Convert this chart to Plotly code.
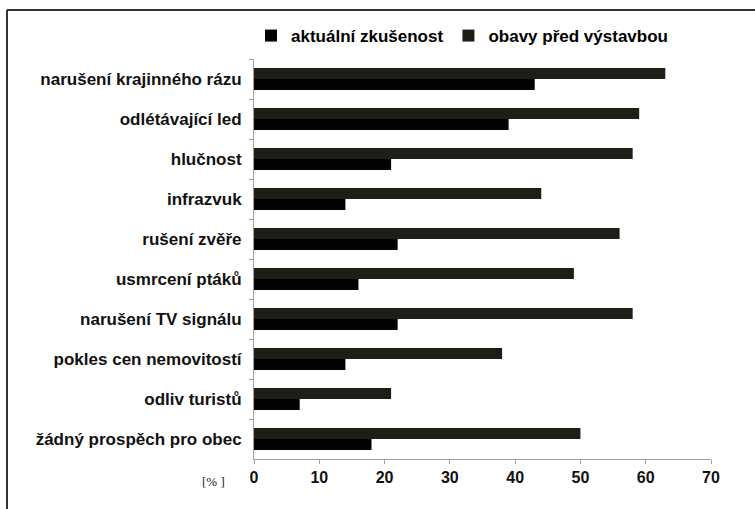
import plotly.graph_objects as go

categories = [
    "narušení krajinného rázu",
    "odlétávající led",
    "hlučnost",
    "infrazvuk",
    "rušení zvěře",
    "usmrcení ptáků",
    "narušení TV signálu",
    "pokles cen nemovitostí",
    "odliv turistů",
    "žádný prospěch pro obec",
]
aktualni = [43, 39, 21, 14, 22, 16, 22, 14, 7, 18]
obavy = [63, 59, 58, 44, 56, 49, 58, 38, 21, 50]
x_ticks = [0, 10, 20, 30, 40, 50, 60, 70]

FONT = "Liberation Sans, Arial, sans-serif"

fig = go.Figure()
fig.add_trace(go.Bar(
    y=categories, x=obavy, orientation="h", name="obavy před výstavbou",
    marker=dict(color="#1d1f17", line=dict(width=0)), legendrank=2,
))
fig.add_trace(go.Bar(
    y=categories, x=aktualni, orientation="h", name="aktuální zkušenost",
    marker=dict(color="#030303", line=dict(width=0)), legendrank=1,
))

L, R, T, B = 254, 44, 59, 50
W, H = 755, 509
pw = W - L - R
ph = H - T - B

def px(xp):
    return (xp - L) / pw

def py(yp):
    return (H - B - yp) / ph

fig.update_layout(
    width=W, height=H,
    margin=dict(l=L, r=R, t=T, b=B, autoexpand=False),
    paper_bgcolor="white", plot_bgcolor="white",
    barmode="group", bargap=0.45, bargroupgap=0,
    font=dict(family=FONT, color="black"),
    legend=dict(
        orientation="h", x=px(251), xanchor="left", y=py(36), yanchor="middle",
        font=dict(size=17, weight="bold", family=FONT),
        bgcolor="rgba(0,0,0,0)",
    ),
    xaxis=dict(
        range=[0, 70], tickvals=x_ticks, ticktext=[str(v) for v in x_ticks],
        showgrid=False, zeroline=False, showline=True, automargin=False,
        linecolor="#a0a0a0", linewidth=1,
        ticks="outside", ticklen=4, tickcolor="#a0a0a0",
        tickfont=dict(size=16, weight="bold", family=FONT, color="#111"),
    ),
    yaxis=dict(
        autorange="reversed", showgrid=False, zeroline=False, showline=True,
        automargin=False,
        linecolor="#a0a0a0", linewidth=1,
        ticks="outside", ticklen=4, tickcolor="#a0a0a0", tickson="boundaries",
        tickfont=dict(size=17, weight="bold", family=FONT, color="#111"),
        ticklabelstandoff=8,
    ),
    annotations=[dict(
        text="[% ]", xref="paper", yref="paper", x=px(213), y=py(481),
        xanchor="center", yanchor="middle", showarrow=False,
        font=dict(size=13, family="Liberation Serif, serif", color="#222"),
    )],
    shapes=[
        dict(type="line", xref="paper", yref="paper",
             x0=px(7), x1=px(755), y0=py(10), y1=py(10),
             line=dict(color="#333", width=2)),
        dict(type="line", xref="paper", yref="paper",
             x0=px(7), x1=px(7), y0=py(10), y1=py(509),
             line=dict(color="#333", width=2)),
    ],
)

fig.write_html(
    "out.html",
    config={"displayModeBar": False},
    post_script="document.body.style.margin='0';",
)
